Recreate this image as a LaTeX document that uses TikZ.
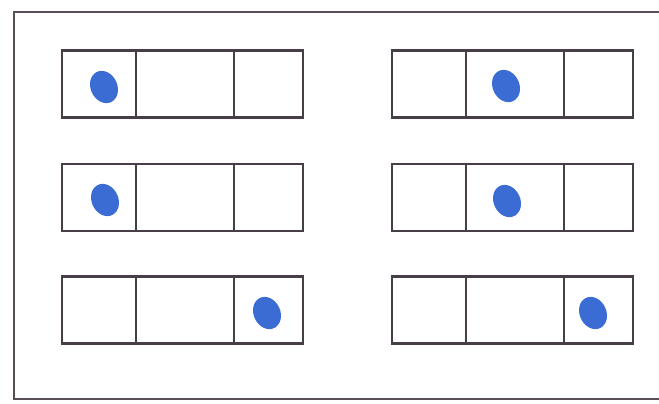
\documentclass[tikz,border=0pt]{standalone}
\usepackage{xcolor}
\definecolor{boxgray}{RGB}{72,62,72}
\definecolor{framegray}{RGB}{88,78,88}
\definecolor{dotblue}{RGB}{58,108,212}
\usepackage{tikz}
\usetikzlibrary{positioning, shapes.geometric}

\tikzset{
  cell/.style={draw=boxgray, line width=1.9pt, rectangle, inner sep=0pt,
    outer sep=0pt, minimum height=50.25pt},
  cellA/.style={cell, minimum width=55.5pt},
  cellB/.style={cell, minimum width=73.5pt},
  cellC/.style={cell, minimum width=51.75pt},
  bead/.style={ellipse, fill=dotblue, draw=none, inner sep=0pt,
    minimum width=20pt, minimum height=25pt, rotate=25}
}

\begin{document}
\begin{tikzpicture}[x=0.75pt, y=-0.75pt]
  \useasboundingbox (0,0) rectangle (659,403);

  % outer frame (open to the right)
  \draw[framegray, line width=2pt] (659,12) -| (14,399) -- (659,399);

  % Row 1
  \node[cellA] (l1a) at (99,84) {};
  \node[cellB, right=0pt of l1a] (l1b) {};
  \node[cellC, right=0pt of l1b] (l1c) {};
  \node[cellA] (r1a) at (429,84) {};
  \node[cellB, right=0pt of r1a] (r1b) {};
  \node[cellC, right=0pt of r1b] (r1c) {};
  \node[bead] (l1dot) at (104,87) {};
  \node[bead] (r1dot) at (506,86) {};

  % Row 2
  \node[cellA] (l2a) at (99,197.5) {};
  \node[cellB, right=0pt of l2a] (l2b) {};
  \node[cellC, right=0pt of l2b] (l2c) {};
  \node[cellA] (r2a) at (429,197.5) {};
  \node[cellB, right=0pt of r2a] (r2b) {};
  \node[cellC, right=0pt of r2b] (r2c) {};
  \node[bead] (l2dot) at (105,200) {};
  \node[bead] (r2dot) at (507,201) {};

  % Row 3
  \node[cellA] (l3a) at (99,310) {};
  \node[cellB, right=0pt of l3a] (l3b) {};
  \node[cellC, right=0pt of l3b] (l3c) {};
  \node[cellA] (r3a) at (429,310) {};
  \node[cellB, right=0pt of r3a] (r3b) {};
  \node[cellC, right=0pt of r3b] (r3c) {};
  \node[bead] (l3dot) at (267,313) {};
  \node[bead] (r3dot) at (593,313) {};
\end{tikzpicture}
\end{document}
